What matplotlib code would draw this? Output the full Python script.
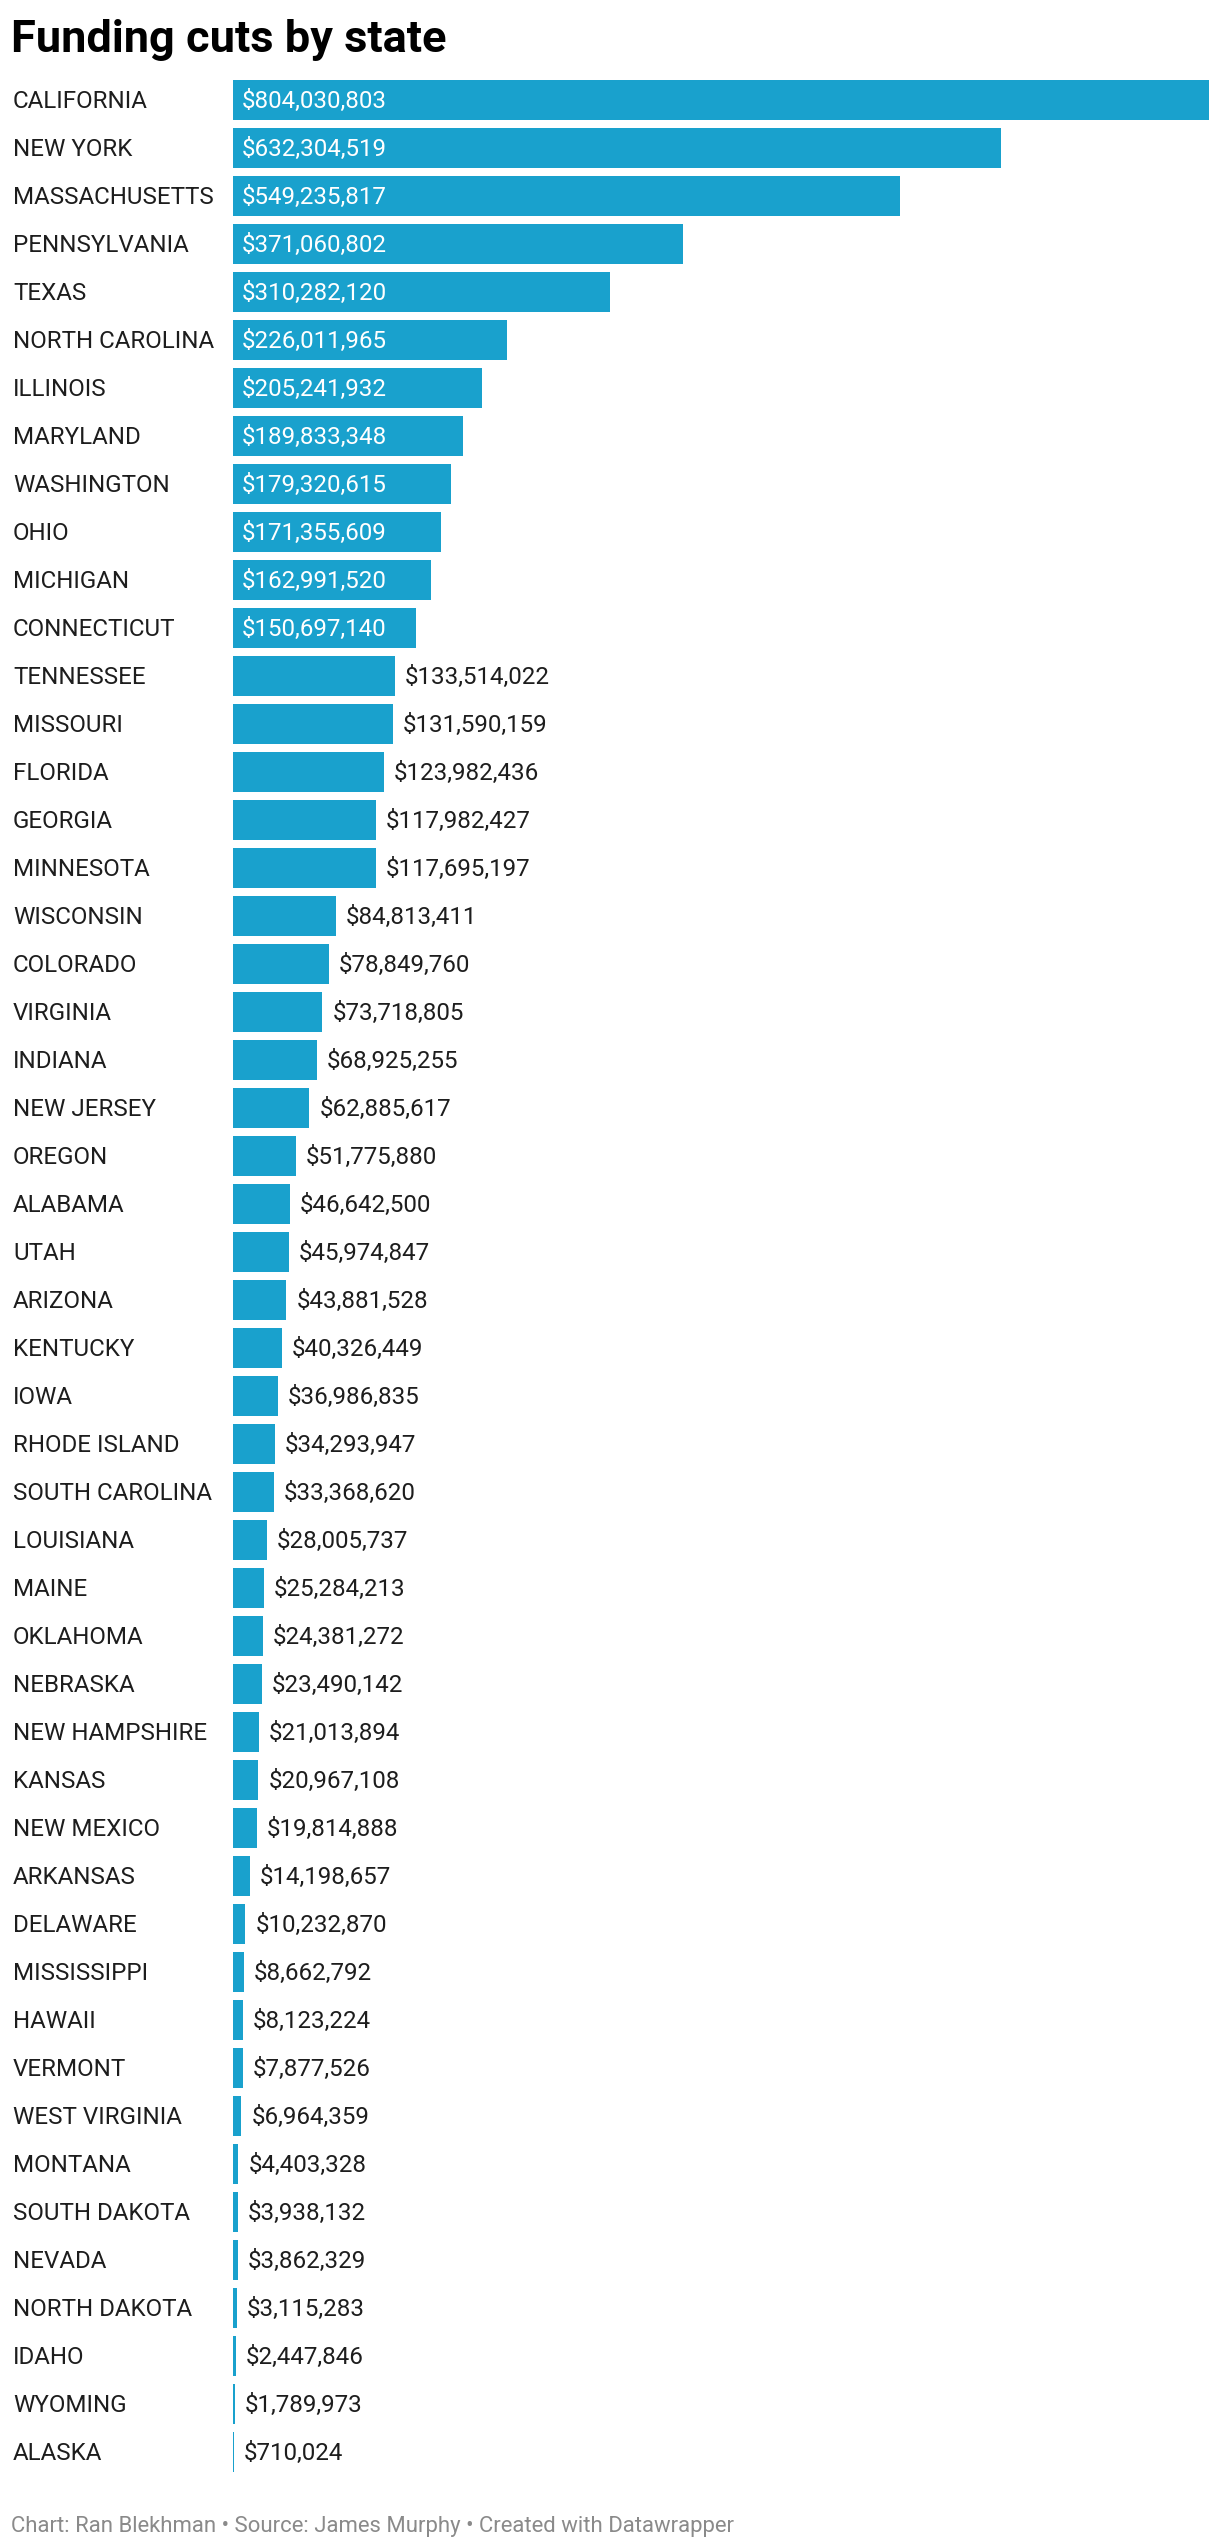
import matplotlib
matplotlib.use("Agg")
import matplotlib.pyplot as plt
from matplotlib.transforms import blended_transform_factory, offset_copy

states = ["CALIFORNIA", "NEW YORK", "MASSACHUSETTS", "PENNSYLVANIA", "TEXAS",
          "NORTH CAROLINA", "ILLINOIS", "MARYLAND", "WASHINGTON", "OHIO",
          "MICHIGAN", "CONNECTICUT", "TENNESSEE", "MISSOURI", "FLORIDA",
          "GEORGIA", "MINNESOTA", "WISCONSIN", "COLORADO", "VIRGINIA",
          "INDIANA", "NEW JERSEY", "OREGON", "ALABAMA", "UTAH",
          "ARIZONA", "KENTUCKY", "IOWA", "RHODE ISLAND", "SOUTH CAROLINA",
          "LOUISIANA", "MAINE", "OKLAHOMA", "NEBRASKA", "NEW HAMPSHIRE",
          "KANSAS", "NEW MEXICO", "ARKANSAS", "DELAWARE", "MISSISSIPPI",
          "HAWAII", "VERMONT", "WEST VIRGINIA", "MONTANA", "SOUTH DAKOTA",
          "NEVADA", "NORTH DAKOTA", "IDAHO", "WYOMING", "ALASKA"]
cuts = [804030803, 632304519, 549235817, 371060802, 310282120,
        226011965, 205241932, 189833348, 179320615, 171355609,
        162991520, 150697140, 133514022, 131590159, 123982436,
        117982427, 117695197, 84813411, 78849760, 73718805,
        68925255, 62885617, 51775880, 46642500, 45974847,
        43881528, 40326449, 36986835, 34293947, 33368620,
        28005737, 25284213, 24381272, 23490142, 21013894,
        20967108, 19814888, 14198657, 10232870, 8662792,
        8123224, 7877526, 6964359, 4403328, 3938132,
        3862329, 3115283, 2447846, 1789973, 710024]

title = "Funding cuts by state"
footer = "Chart: Ran Blekhman \u2022 Source: James Murphy \u2022 Created with Datawrapper"

bar_color = "#19a1cd"
text_color = "#1d1d1d"
plt.rcParams["font.family"] = ["Roboto", "DejaVu Sans"]

W, H = 1220, 2548
fig = plt.figure(figsize=(W / 100, H / 100), dpi=100)
ax = fig.add_axes([233 / W, 1 - 2476 / H, 976 / W, 2400 / H])

n = len(states)
ypos = list(range(n))
ax.barh(ypos, cuts, height=40 / 48, color=bar_color)
ax.set_xlim(0, max(cuts))
ax.set_ylim(n - 0.5, -0.5)
ax.axis("off")

fs = 17.4
lab_tr = offset_copy(blended_transform_factory(fig.transFigure, ax.transData),
                     fig=fig, x=0, y=-1, units="dots")
for y, s in zip(ypos, states):
    ax.text(13 / W, y, s, transform=lab_tr, ha="left", va="center",
            fontsize=fs, color=text_color)

fig.canvas.draw()
renderer = fig.canvas.get_renderer()
inside_tr = offset_copy(ax.transData, fig=fig, x=9, y=-1, units="dots")
outside_tr = offset_copy(ax.transData, fig=fig, x=10, y=-1, units="dots")
for y, v in zip(ypos, cuts):
    label = "${:,}".format(v)
    bar_px = ax.transData.transform((v, 0))[0] - ax.transData.transform((0, 0))[0]
    t = ax.text(0, y, label, transform=inside_tr, ha="left", va="center",
                fontsize=fs, color="white")
    w = t.get_window_extent(renderer).width
    if w + 26 > bar_px:
        t.remove()
        ax.text(v, y, label, transform=outside_tr, ha="left", va="center",
                fontsize=fs, color=text_color)

fig.text(11 / W, 1 - 52 / H, title, ha="left", va="baseline",
         fontsize=32.5, fontweight="bold", color="#000000")
fig.text(11 / W, 1 - 2532 / H, footer, ha="left", va="baseline",
         fontsize=15.9, color="#8a8a8a")

fig.savefig("out.png", dpi=100, facecolor="white")
